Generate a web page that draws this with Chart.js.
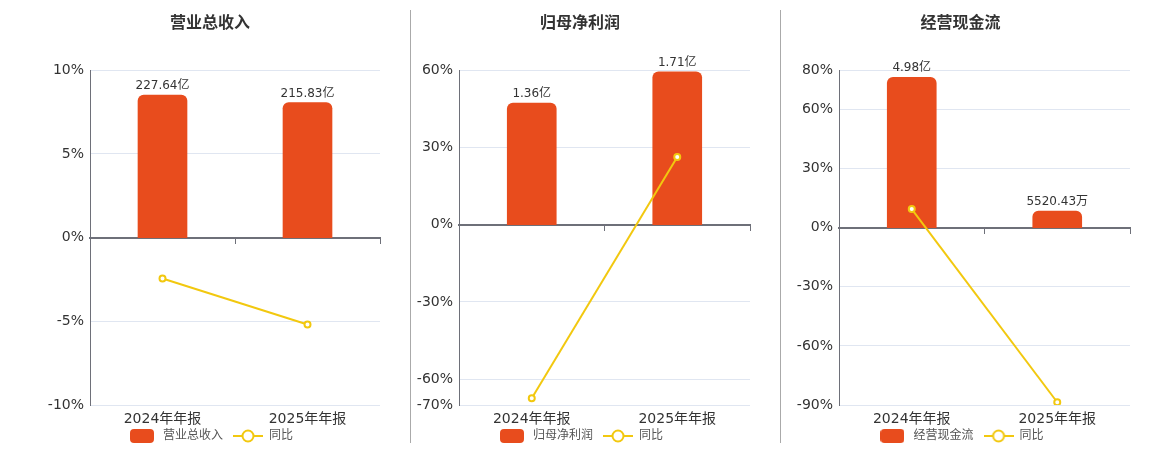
<!DOCTYPE html>
<html>
<head>
<meta charset="utf-8">
<script src="https://cdn.jsdelivr.net/npm/chart.js@4.4.1/dist/chart.umd.min.js"></script>
<style>
  html, body { margin:0; padding:0; background:#fff; width:1160px; height:450px; overflow:hidden; }
  .panel { position:absolute; top:0; height:452px; }
  .divider { position:absolute; top:10px; height:433px; width:1px; background:#aaaaaa; }
</style>
</head>
<body>
<div class="panel" style="left:0px;width:400px;"><canvas id="c1" width="400" height="452"></canvas></div>
<div class="divider" style="left:410px;"></div>
<div class="panel" style="left:410px;width:370px;"><canvas id="c2" width="370" height="452"></canvas></div>
<div class="divider" style="left:780px;"></div>
<div class="panel" style="left:781px;width:379px;"><canvas id="c3" width="379" height="452"></canvas></div>
<script>
// ---------- data ----------
const categories = ['2024年年报', '2025年年报'];

const titles = ['营业总收入', '归母净利润', '经营现金流'];

const revenueValues = [227.64, 215.83];          // 亿
const revenueLabels = ['227.64亿', '215.83亿'];
const revenueYoY = [-2.44, -5.19];               // %
const revenueTicks = [-10, -5, 0, 5, 10];

const profitValues = [1.36, 1.71];               // 亿
const profitLabels = ['1.36亿', '1.71亿'];
const profitYoY = [-67.4, 26.3];                 // %
const profitTicks = [-70, -60, -30, 0, 30, 60];

const cashValues = [4.98, 0.552043];             // 亿
const cashLabels = ['4.98亿', '5520.43万'];
const cashYoY = [9.5, -88.6];                    // %
const cashTicks = [-90, -60, -30, 0, 30, 60, 80];

const yoyName = '同比';

// ---------- styles ----------
const BAR_COLOR = '#E84C1D';
const LINE_COLOR = '#F2C80F';
const AXIS_COLOR = '#6E7079';
const GRID_COLOR = '#E0E6F1';
const TEXT_COLOR = '#333333';
const FONT = '"DejaVu Sans", "Noto Sans CJK SC", sans-serif';

function makeBarIcon() {
  const c = document.createElement('canvas');
  c.width = 24; c.height = 14;
  const g = c.getContext('2d');
  g.fillStyle = BAR_COLOR;
  g.beginPath();
  g.roundRect(0, 0, 24, 14, 4);
  g.fill();
  return c;
}
function makeLineIcon() {
  const c = document.createElement('canvas');
  c.width = 30; c.height = 14;
  const g = c.getContext('2d');
  g.strokeStyle = LINE_COLOR;
  g.lineWidth = 2;
  g.beginPath(); g.moveTo(0, 7); g.lineTo(30, 7); g.stroke();
  g.fillStyle = '#fff';
  g.beginPath(); g.arc(15, 7, 5.5, 0, Math.PI * 2); g.fill(); g.stroke();
  return c;
}
const barIcon = makeBarIcon();
const lineIcon = makeLineIcon();

const barLabelPlugin = {
  id: 'barLabels',
  afterLayout(chart) {
    // let the category labels extend below the (compact) x-axis box without clipping
    chart.scales.x.bottom = chart.height;
  },
  afterDatasetsDraw(chart) {
    const labels = chart.options.plugins.barLabels.labels;
    const meta = chart.getDatasetMeta(1);
    const ctx = chart.ctx;
    ctx.save();
    ctx.font = '12px ' + FONT;
    ctx.fillStyle = TEXT_COLOR;
    ctx.textAlign = 'center';
    ctx.textBaseline = 'bottom';
    meta.data.forEach((bar, i) => {
      ctx.fillText(labels[i], bar.x, bar.y - 3);
    });
    ctx.restore();
  }
};

function buildChart(id, cfg) {
  const pctMin = cfg.ticks[0], pctMax = cfg.ticks[cfg.ticks.length - 1];
  const barMin = cfg.barMax * pctMin / pctMax;
  return new Chart(document.getElementById(id), {
    data: {
      labels: categories,
      datasets: [
        {
          type: 'line', label: yoyName, data: cfg.yoy, yAxisID: 'y', xAxisID: 'x',
          borderColor: LINE_COLOR, borderWidth: 2, backgroundColor: '#fff',
          pointRadius: 3, pointBorderWidth: 2, pointBackgroundColor: '#fff',
          pointBorderColor: LINE_COLOR, tension: 0, order: 0
        },
        {
          type: 'bar', label: cfg.title, data: cfg.values, yAxisID: 'y1', xAxisID: 'x',
          backgroundColor: BAR_COLOR, borderWidth: 0,
          barThickness: 49, borderRadius: {topLeft: 6, topRight: 6, bottomLeft: 0, bottomRight: 0},
          borderSkipped: 'bottom', order: 1
        }
      ]
    },
    options: {
      responsive: false, animation: false, devicePixelRatio: 1,
      layout: { padding: { left: cfg.padL, right: cfg.padR, top: 0, bottom: 0 } },
      plugins: {
        title: {
          display: true, text: cfg.title, color: TEXT_COLOR,
          font: { family: FONT, size: 16, weight: 'bold' },
          padding: { top: 14, bottom: 37 }
        },
        legend: {
          display: true, position: 'bottom',
          labels: {
            usePointStyle: true, pointStyleWidth: 30, padding: 10,
            color: '#555', font: { family: FONT, size: 12 },
            generateLabels: () => [
              { text: cfg.title, pointStyle: barIcon, fillStyle: BAR_COLOR, strokeStyle: BAR_COLOR, lineWidth: 0, datasetIndex: 1, fontColor: '#555' },
              { text: yoyName, pointStyle: lineIcon, fillStyle: LINE_COLOR, strokeStyle: LINE_COLOR, lineWidth: 0, datasetIndex: 0, fontColor: '#555' }
            ]
          }
        },
        tooltip: { enabled: false },
        barLabels: { labels: cfg.labels }
      },
      scales: {
        x: {
          type: 'category', position: 'bottom', offset: true,
          grid: { display: false, drawTicks: false },
          border: { display: false },
          ticks: { color: TEXT_COLOR, font: { family: FONT, size: 14 }, padding: 6 },
          afterFit(s) { s.height = 15; }
        },
        x0: {
          type: 'category', position: { y: 0 }, offset: true,
          grid: { display: true, drawOnChartArea: false, drawTicks: true, tickLength: 5, color: AXIS_COLOR, offset: true },
          border: { display: true, color: AXIS_COLOR, width: 2 },
          ticks: { display: false }
        },
        y: {
          type: 'linear', position: 'left', min: pctMin, max: pctMax,
          afterBuildTicks(s) { s.ticks = cfg.ticks.map(v => ({ value: v })); },
          grid: { color: GRID_COLOR, drawTicks: false },
          border: { display: true, color: AXIS_COLOR, width: 1 },
          ticks: { color: TEXT_COLOR, font: { family: FONT, size: 14 }, padding: 6, callback: v => v + '%' },
          afterFit(s) { s.width = cfg.axisW; }
        },
        y1: {
          type: 'linear', position: 'right', display: false, min: barMin, max: cfg.barMax
        }
      }
    },
    plugins: [barLabelPlugin]
  });
}

buildChart('c1', { title: titles[0], values: revenueValues, labels: revenueLabels, yoy: revenueYoY, ticks: revenueTicks, barMax: 267.5, padL: 40, padR: 20, axisW: 50 });
buildChart('c2', { title: titles[1], values: profitValues, labels: profitLabels, yoy: profitYoY, ticks: profitTicks, barMax: 1.727, padL: 0, padR: 30, axisW: 49 });
buildChart('c3', { title: titles[2], values: cashValues, labels: cashLabels, yoy: cashYoY, ticks: cashTicks, barMax: 5.215, padL: 10, padR: 30, axisW: 48 });
</script>
</body>
</html>
